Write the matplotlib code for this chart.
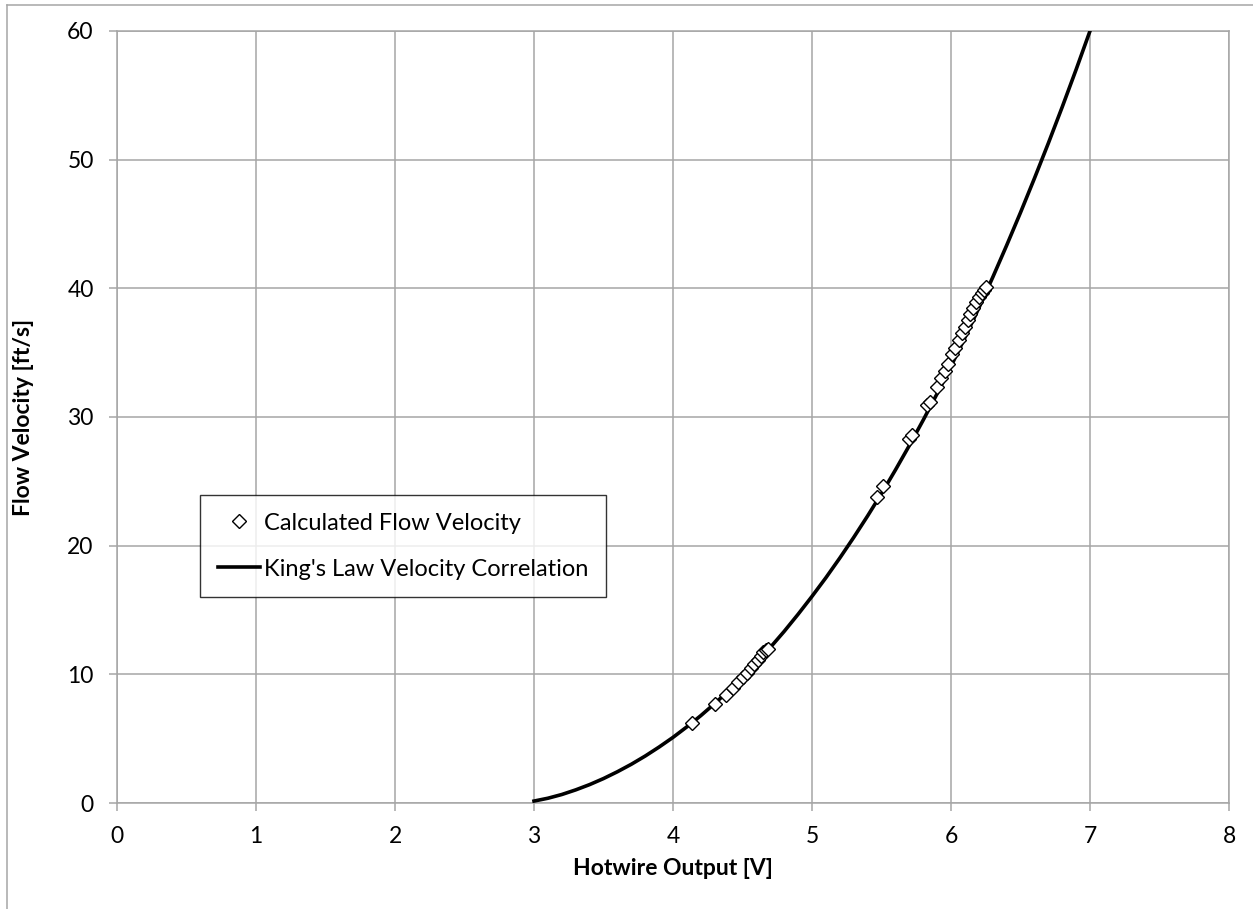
import matplotlib
matplotlib.use("Agg")
import matplotlib.pyplot as plt
from matplotlib.lines import Line2D

plt.rcParams['font.family'] = ['Lato', 'DejaVu Sans']

# Measured data points (hotwire voltage [V], velocity [ft/s])
meas_E = [4.14, 4.30, 4.38, 4.43, 4.47, 4.50, 4.53, 4.56, 4.58, 4.61, 4.63, 4.65, 4.67, 4.68,
          5.47, 5.51, 5.70, 5.72, 5.83, 5.85, 5.90, 5.93, 5.96, 5.98, 6.01, 6.03, 6.06, 6.08,
          6.10, 6.12, 6.14, 6.16, 6.18, 6.20, 6.22, 6.24, 6.25]
meas_U = [6.2, 7.7, 8.4, 8.9, 9.4, 9.8, 10.1, 10.5, 10.8, 11.1, 11.4, 11.7, 11.9, 12.0,
          23.8, 24.6, 28.3, 28.6, 30.9, 31.2, 32.3, 33.0, 33.6, 34.1, 34.9, 35.4, 36.0, 36.5,
          37.0, 37.5, 38.0, 38.5, 38.9, 39.3, 39.6, 39.9, 40.1]

# King's law correlation curve
curve_E = [3.0, 3.1, 3.2, 3.3, 3.4, 3.5, 3.6, 3.7, 3.8, 3.9, 4.0, 4.1, 4.2, 4.3, 4.4,
           4.5, 4.6, 4.7, 4.8, 4.9, 5.0, 5.1, 5.2, 5.3, 5.4, 5.5, 5.6, 5.7, 5.8, 5.9,
           6.0, 6.1, 6.2, 6.3, 6.4, 6.5, 6.6, 6.7, 6.8, 6.9, 7.0]
curve_U = [0.15, 0.37, 0.66, 1.02, 1.43, 1.90, 2.43, 3.01, 3.65, 4.35, 5.10, 5.92, 6.79,
           7.73, 8.72, 9.78, 10.9, 12.09, 13.34, 14.67, 16.06, 17.51, 19.04, 20.64, 22.31,
           24.05, 25.88, 27.78, 29.76, 31.81, 33.95, 36.17, 38.47, 40.85, 43.33, 45.89,
           48.54, 51.27, 54.09, 57.0, 60.0]

x_ticks = [0, 1, 2, 3, 4, 5, 6, 7, 8]
y_ticks = [0, 10, 20, 30, 40, 50, 60]

fig = plt.figure(figsize=(12.53, 9.09), dpi=100)
ax = fig.add_axes([117/1253, 1 - 803/909, (1229-117)/1253, (803-31)/909])

grid_c = '#a6a6a6'
ax.set_xlim(0, 8)
ax.set_ylim(0, 60)
ax.set_xticks(x_ticks)
ax.set_yticks(y_ticks)
ax.grid(True, color=grid_c, linewidth=1.1)
ax.set_axisbelow(True)
for s in ax.spines.values():
    s.set_color(grid_c)
    s.set_linewidth(1.1)
ax.tick_params(axis='both', direction='out', length=5.8, width=1.1, color=grid_c,
               labelsize=16.5, pad=11, labelcolor='black')

line, = ax.plot(curve_E, curve_U, color='black', linewidth=2.6, zorder=3,
                label="King's Law Velocity Correlation")
pts, = ax.plot(meas_E, meas_U, linestyle='none', marker='D', markersize=7.5,
               markerfacecolor='white', markeredgecolor='black', markeredgewidth=1.0,
               zorder=4, label='Calculated Flow Velocity')

ax.set_xlabel('Hotwire Output [V]', fontsize=16.5, fontweight='bold', labelpad=8)
ax.set_ylabel('Flow Velocity [ft/s]', fontsize=16.5, fontweight='bold', labelpad=24)

leg = ax.legend(handles=[pts, line], loc='upper left',
                bbox_to_anchor=((200-117)/1112, (803-495)/772),
                fontsize=17, frameon=True, fancybox=False, edgecolor='black',
                borderpad=0.75, labelspacing=1.05, handlelength=1.8, handletextpad=0.15,
                borderaxespad=0)
leg.get_frame().set_linewidth(1.0)

# outer chart border (top and left visible)
fig.add_artist(Line2D([7/1253, 7/1253], [0, 1 - 5/909], color=grid_c, linewidth=1.1,
                      transform=fig.transFigure))
fig.add_artist(Line2D([7/1253, 1], [1 - 5/909, 1 - 5/909], color=grid_c, linewidth=1.1,
                      transform=fig.transFigure))

fig.savefig('out.png', dpi=100)
